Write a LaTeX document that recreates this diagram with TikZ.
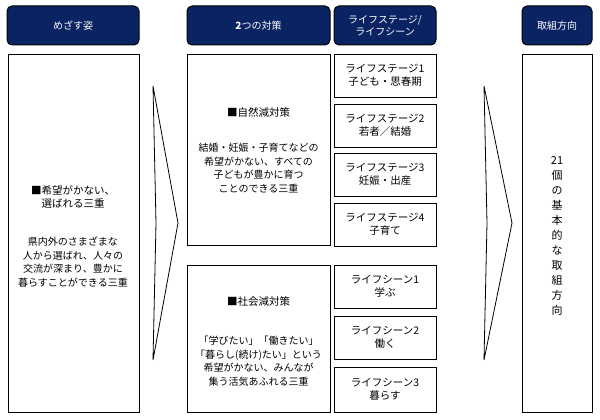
\documentclass[tikz,border=0pt]{standalone}
\usepackage{fontspec}
\setmainfont{Noto Sans CJK JP}
\begin{document}
\begin{tikzpicture}[x=1pt,y=-1pt,
 hdr/.style={draw=black,line width=1pt,fill=hdrblue,rounded corners=5pt},
 htx/.style={text=white,font=\fontsize{10}{12.5}\selectfont,align=center,inner sep=0pt},
 bx/.style={draw=black,line width=0.6pt,fill=white},
 tx/.style={align=center,font=\fontsize{10.5}{13.5}\selectfont,inner sep=0pt},
 chev/.style={draw=black,line width=0.8pt,fill=white}]
\definecolor{hdrblue}{HTML}{0A2463}
\useasboundingbox (0,0) rectangle (600,420);
% headers
\draw[hdr] (7,6) rectangle (139,45); \node[htx] (h1) at (73,25.5) {めざす姿};
\draw[hdr] (187,6) rectangle (330,45); \node[htx] (h2) at (258.5,25.5) {\textbf{2}つの対策};
\draw[hdr] (334,6) rectangle (436,45); \node[htx] (h3) at (385,25.5) {ライフステージ/\\ライフシーン};
\draw[hdr] (522,6) rectangle (592,45); \node[htx] (h4) at (557,25.5) {取組方向};
% left body
\draw[bx] (8,54) rectangle (139,412);
\node[tx] (l1) at (73,197) {■希望がかない、\\選ばれる三重};
\node[tx,font=\fontsize{10}{13.5}\selectfont] (l2) at (73,262) {県内外のさまざまな\\人から選ばれ、人々の\\交流が深まり、豊かに\\暮らすことができる三重};
% chevrons
\draw[chev] (153,86) -- (178,223) -- (153,360) -- (156,223) -- cycle;
\draw[chev] (484,86) -- (512,223) -- (484,360) -- (487,223) -- cycle;
% two measures
\draw[bx] (187,54) rectangle (330,245);
\node[tx] (m1) at (258.5,112) {■自然減対策};
\node[tx,font=\fontsize{10}{13.5}\selectfont] (m1t) at (258.5,168) {結婚・妊娠・子育てなどの\\希望がかない、すべての\\子どもが豊かに育つ\\ことのできる三重};
\draw[bx] (187,265) rectangle (330,412);
\node[tx] (m2) at (258.5,302) {■社会減対策};
\node[tx,font=\fontsize{10}{13.5}\selectfont] (m2t) at (258.5,361) {「学びたい」「働きたい」\\「暮らし(続け)たい」という\\希望がかない、みんなが\\集う活気あふれる三重};
% life stages
\foreach \a/\b/\t in {54/97/{ライフステージ1\\子ども・思春期},104/147/{ライフステージ2\\若者／結婚},153/196/{ライフステージ3\\妊娠・出産},203/246/{ライフステージ4\\子育て},265/308/{ライフシーン1\\学ぶ},316/359/{ライフシーン2\\働く},367/412/{ライフシーン3\\暮らす}}{
 \draw[bx] (334,\a) rectangle (436,\b);
 \node[tx] at (385,{(\a+\b)/2}) {\t};
}
% right body
\draw[bx] (522,54) rectangle (592,412);
\node[tx,font=\fontsize{11}{15}\selectfont] (r) at (557,236) {21\\個\\の\\基\\本\\的\\な\\取\\組\\方\\向};
\end{tikzpicture}
\end{document}
